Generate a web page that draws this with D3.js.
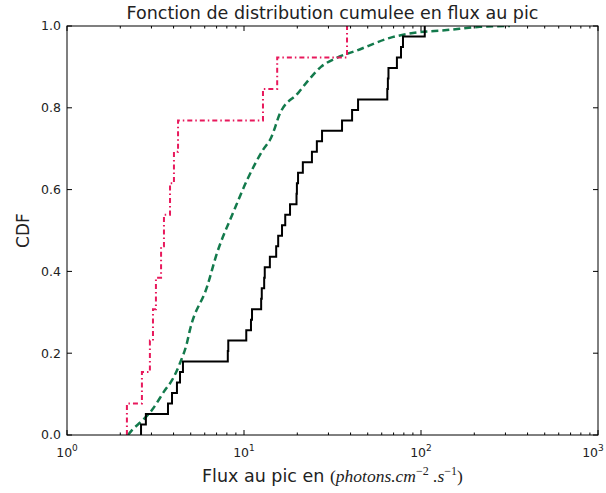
<!DOCTYPE html>
<html>
<head>
<meta charset="utf-8">
<script src="https://cdn.jsdelivr.net/npm/d3@7"></script>
<style>
  body { margin: 0; background: #fff; }
  text { font-family: "DejaVu Sans", sans-serif; fill: #222; }
</style>
</head>
<body>
<div id="chart"></div>
<script>
// sorted peak flux samples (photons.cm-2.s-1)
var fluxBlack = [2.62, 2.79, 3.72, 3.92, 4.18, 4.35, 4.52, 8.1, 8.15, 10.3,
  10.95, 11.1, 12.5, 12.6, 13.0, 13.1, 14.0, 15.2, 15.6, 16.4,
  17.1, 18.2, 19.8, 19.9, 20.2, 21.5, 24.2, 25.8, 27.6, 35.8,
  40.8, 44.1, 64.5, 65, 65.5, 73.1, 77.1, 79.1, 105];
var fluxRed = [2.18, 2.65, 2.94, 3.06, 3.18, 3.40, 3.53, 3.82, 4.02, 4.24,
  12.8, 15.4, 38.2];

// dashed green curve: flux value and cdf
var greenFlux = [2.21, 2.33, 2.69, 3.02, 3.58, 3.92, 4.35, 4.76, 4.95, 6.18,
  7.04, 8.67, 10.4, 12.8, 14.2, 16.0, 20.2, 23.2, 27.2, 33.4, 43.3, 66.8, 90.1, 140, 215, 318];
var greenCdf = [0, 0.012, 0.037, 0.061, 0.110, 0.134, 0.176, 0.225, 0.257, 0.362,
  0.445, 0.543, 0.623, 0.697, 0.726, 0.787, 0.836, 0.868, 0.900, 0.922, 0.940, 0.971, 0.983, 0.990, 0.998, 1.0];

var xTicks = [1, 10, 100, 1000];
var yTicks = [0, 0.2, 0.4, 0.6, 0.8, 1.0];

var W = 606, H = 493;
var margin = {top: 26, right: 8, bottom: 58, left: 67},
    width = W - margin.left - margin.right,
    height = H - margin.top - margin.bottom;

var svg = d3.select("#chart")
  .append("svg")
    .attr("width", W)
    .attr("height", H);

var g = svg.append("g")
    .attr("transform", "translate(" + margin.left + "," + margin.top + ")");

var x = d3.scaleLog().domain([1, 1000]).range([0, width]);
var y = d3.scaleLinear().domain([0, 1]).range([height, 0]);

g.append("clipPath").attr("id", "clip")
  .append("rect").attr("width", width).attr("height", height);

// ticks (inward, all four sides, classic matplotlib look)
var minor = [];
[1, 10, 100].forEach(function(d) {
  for (var k = 2; k <= 9; k++) minor.push(d * k);
});

var tickG = g.append("g").attr("stroke", "#000").attr("stroke-width", 1);
xTicks.forEach(function(d) {
  tickG.append("line").attr("x1", x(d)).attr("x2", x(d)).attr("y1", height).attr("y2", height - 5);
  tickG.append("line").attr("x1", x(d)).attr("x2", x(d)).attr("y1", 0).attr("y2", 5);
});
minor.forEach(function(d) {
  tickG.append("line").attr("x1", x(d)).attr("x2", x(d)).attr("y1", height).attr("y2", height - 2.5);
  tickG.append("line").attr("x1", x(d)).attr("x2", x(d)).attr("y1", 0).attr("y2", 2.5);
});
yTicks.forEach(function(d) {
  tickG.append("line").attr("x1", 0).attr("x2", 5).attr("y1", y(d)).attr("y2", y(d));
  tickG.append("line").attr("x1", width).attr("x2", width - 5).attr("y1", y(d)).attr("y2", y(d));
});

// tick labels
g.selectAll(".ylab")
  .data(yTicks)
  .enter()
  .append("text")
    .attr("x", -6)
    .attr("y", function(d) { return y(d); })
    .attr("dy", "0.35em")
    .attr("text-anchor", "end")
    .style("font-size", "12.5px")
    .text(function(d) { return d.toFixed(1); });

var xl = g.selectAll(".xlab")
  .data(xTicks)
  .enter()
  .append("text")
    .attr("x", function(d, i) { return x(d) - (i == xTicks.length - 1 ? 5 : 0); })
    .attr("y", height + 22)
    .attr("text-anchor", "middle")
    .style("font-size", "12.5px");
xl.append("tspan").text("10");
xl.append("tspan")
  .attr("dy", -6)
  .style("font-size", "9px")
  .text(function(d) { return Math.round(Math.log10(d)); });

// curves
var plot = g.append("g").attr("clip-path", "url(#clip)");

function ecdf(vals) {
  var pts = [[vals[0], 0]];
  vals.forEach(function(v, i) { pts.push([v, (i + 1) / vals.length]); });
  return pts;
}

var stepLine = d3.line()
  .x(function(d) { return x(d[0]); })
  .y(function(d) { return y(d[1]); })
  .curve(d3.curveStepAfter);

var smoothLine = d3.line()
  .x(function(d) { return x(d[0]); })
  .y(function(d) { return y(d[1]); })
  .curve(d3.curveMonotoneX);

plot.append("path")
  .datum(greenFlux.map(function(f, i) { return [f, greenCdf[i]]; }))
  .attr("d", smoothLine)
  .attr("fill", "none")
  .attr("stroke", "#137a4c")
  .attr("stroke-width", 2.5)
  .attr("stroke-dasharray", "7,4");

plot.append("path")
  .datum(ecdf(fluxRed))
  .attr("d", stepLine)
  .attr("fill", "none")
  .attr("stroke", "#e8195c")
  .attr("stroke-width", 2)
  .attr("stroke-dasharray", "5,3,1.5,3");

plot.append("path")
  .datum(ecdf(fluxBlack))
  .attr("d", stepLine)
  .attr("fill", "none")
  .attr("stroke", "#000")
  .attr("stroke-width", 2);

// frame
g.append("rect")
  .attr("width", width)
  .attr("height", height)
  .attr("fill", "none")
  .attr("stroke", "#000")
  .attr("stroke-width", 1);

// titles
svg.append("text")
  .attr("x", margin.left + width / 2)
  .attr("y", 19)
  .attr("text-anchor", "middle")
  .style("font-size", "17.5px")
  .text("Fonction de distribution cumulee en flux au pic");

svg.append("text")
  .attr("transform", "translate(29," + (margin.top + height / 2) + ")rotate(-90)")
  .attr("text-anchor", "middle")
  .style("font-size", "17px")
  .text("CDF");

var serif = "'Liberation Serif', serif";
var xt = svg.append("text")
  .attr("x", margin.left + width / 2)
  .attr("y", 482)
  .attr("text-anchor", "middle")
  .style("font-size", "17.5px");
xt.append("tspan").text("Flux au pic en ");
xt.append("tspan").style("font-family", serif).text("(");
xt.append("tspan").style("font-family", serif).style("font-style", "italic").text("photons.cm");
xt.append("tspan").attr("dy", -7).style("font-size", "12px").style("font-family", serif).text("\u22122");
xt.append("tspan").attr("dy", 7).style("font-family", serif).style("font-style", "italic").text(" .s");
xt.append("tspan").attr("dy", -7).style("font-size", "12px").style("font-family", serif).text("\u22121");
xt.append("tspan").attr("dy", 7).style("font-family", serif).text(")");
</script>
</body>
</html>
